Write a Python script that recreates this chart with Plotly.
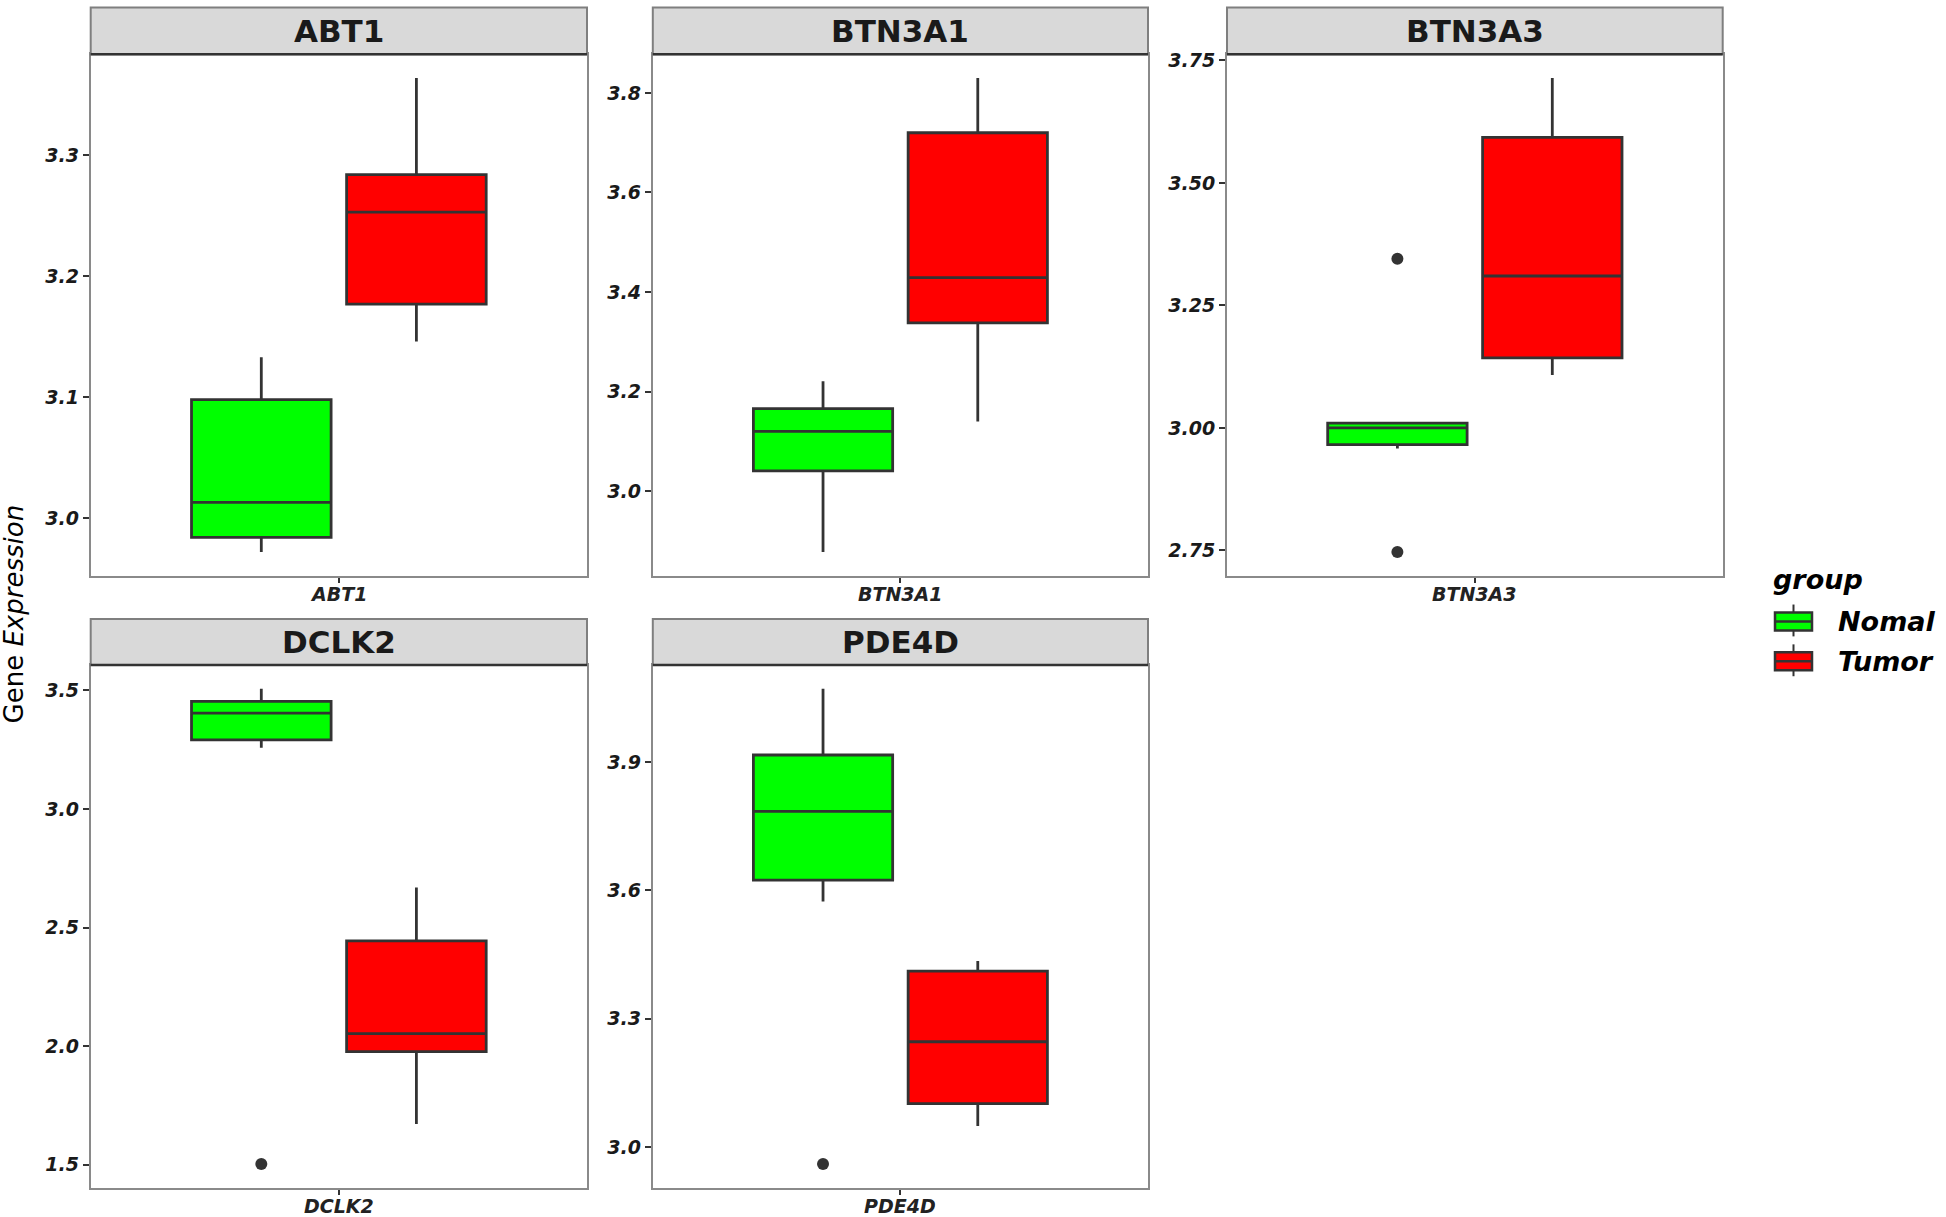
import plotly.graph_objects as go

W, H = 1946, 1217

genes = ["ABT1", "BTN3A1", "BTN3A3", "DCLK2", "PDE4D"]
groups = ["Nomal", "Tumor"]
colors = {"Nomal": "#00FF00", "Tumor": "#FF0000"}

# box statistics
normal_lower = [2.972, 2.878, 2.958, 3.258, 3.574]
normal_q1 = [2.984, 3.041, 2.966, 3.291, 3.624]
normal_med = [3.013, 3.120, 3.000, 3.404, 3.785]
normal_q3 = [3.098, 3.166, 3.010, 3.454, 3.917]
normal_upper = [3.133, 3.221, 3.010, 3.507, 4.072]
normal_out = [[], [], [3.345, 2.747], [1.503], [2.960]]

tumor_lower = [3.146, 3.140, 3.108, 1.672, 3.049]
tumor_q1 = [3.177, 3.338, 3.143, 1.977, 3.101]
tumor_med = [3.253, 3.429, 3.310, 2.053, 3.246]
tumor_q3 = [3.284, 3.720, 3.593, 2.444, 3.411]
tumor_upper = [3.364, 3.830, 3.714, 2.669, 3.435]
tumor_out = [[], [], [], [], []]

y_dtick = [0.1, 0.2, 0.25, 0.5, 0.3]
y_fmt = [".1f", ".1f", ".2f", ".1f", ".1f"]

stats = {
    "Nomal": (normal_lower, normal_q1, normal_med, normal_q3, normal_upper, normal_out),
    "Tumor": (tumor_lower, tumor_q1, tumor_med, tumor_q3, tumor_upper, tumor_out),
}

# panel positions in pixels
cols_px = [(90.7, 587.0), (652.8, 1148.0), (1227.0, 1722.7)]
rows_px = [((2.6, 49.5), (49.5, 573.0)), ((616.5, 662.7), (662.7, 1187.6))]

FONT = "DejaVu Sans"


def px(x0, x1, y0, y1):
    return dict(xref="paper", yref="paper", x0=x0 / W, x1=x1 / W, y0=1 - y1 / H, y1=1 - y0 / H)


fig = go.Figure()
layout = dict(
    width=W, height=H,
    margin=dict(l=0, r=0, t=0, b=0),
    paper_bgcolor="white", plot_bgcolor="white",
    boxmode="group", boxgap=0.25, boxgroupgap=0.1,
    showlegend=False,
    shapes=[], annotations=[],
)

for i, g in enumerate(genes):
    r, c = divmod(i, 3)
    x0, x1 = cols_px[c]
    (s0, s1), (p0, p1) = rows_px[r]
    xa = "x" if i == 0 else f"x{i+1}"
    ya = "y" if i == 0 else f"y{i+1}"
    xkey = "xaxis" if i == 0 else f"xaxis{i+1}"
    ykey = "yaxis" if i == 0 else f"yaxis{i+1}"

    vals = []
    for grp in groups:
        lo, q1, md, q3, up, out = stats[grp]
        vals += [lo[i], up[i]] + out[i]
        extra = dict(y=[out[i]], boxpoints="outliers", jitter=0, pointpos=0) if out[i] else dict(boxpoints=False)
        fig.add_trace(go.Box(
            name=grp, x=[g], q1=[q1[i]], median=[md[i]], q3=[q3[i]],
            lowerfence=[lo[i]], upperfence=[up[i]],
            fillcolor=colors[grp], whiskerwidth=0,
            line=dict(color="#333333", width=2.8),
            marker=dict(color="#333333", size=12),
            offsetgroup=grp, legendgroup=grp,
            xaxis=xa, yaxis=ya, **extra,
        ))
    vmin, vmax = min(vals), max(vals)
    pad = (vmax - vmin) * 0.05

    layout[xkey] = dict(
        domain=[x0 / W, x1 / W], anchor=ya, type="category",
        categoryorder="array", categoryarray=[g],
        range=[-0.6, 0.6], showgrid=False, zeroline=False,
        showline=True, mirror=True, linecolor="#8a8a8a", linewidth=2,
        ticks="outside", ticklen=5, tickcolor="#333333", tickwidth=1.5,
        showticklabels=False,
    )
    layout[ykey] = dict(
        domain=[1 - p1 / H, 1 - p0 / H], anchor=xa,
        range=[vmin - pad, vmax + pad], tick0=3.0, dtick=y_dtick[i], tickformat=y_fmt[i],
        showgrid=False, zeroline=False,
        showline=True, mirror=True, linecolor="#8a8a8a", linewidth=2,
        ticks="outside", ticklen=6, tickcolor="#333333", tickwidth=1.5,
        tickfont=dict(family=FONT, size=19, color="#1a1a1a", weight="bold", style="italic"),
    )

    # x category label under the panel
    layout["annotations"].append(dict(
        text=g, xref="paper", yref="paper", showarrow=False,
        x=(x0 + x1) / 2 / W, y=1 - (p1 + 18.5) / H, xanchor="center", yanchor="middle",
        height=22, borderpad=0,
        font=dict(family=FONT, size=19, color="#222222", weight="bold", style="italic"),
    ))

    # facet strip
    layout["shapes"].append(dict(
        type="rect", **px(x0, x1, s0, s1),
        fillcolor="#d9d9d9", line=dict(color="#7f7f7f", width=2), layer="above",
    ))
    layout["shapes"].append(dict(
        type="line", **px(x0, x1, s1, s1),
        line=dict(color="#333333", width=2.5), layer="above",
    ))
    layout["annotations"].append(dict(
        text=g, xref="paper", yref="paper", showarrow=False,
        x=(x0 + x1) / 2 / W, y=1 - (s0 + s1) / 2 / H, xanchor="center", yanchor="middle",
        font=dict(family=FONT, size=31, color="#1a1a1a", weight="bold"),
    ))

layout["annotations"].append(dict(
    text="Gene <i>Expression</i>", xref="paper", yref="paper", showarrow=False,
    x=14 / W, y=1 - 612 / H, xanchor="center", yanchor="middle", textangle=-90,
    font=dict(family=FONT, size=26, color="black"),
))

# legend drawn by hand so the keys match ggplot's box glyphs
leg_font = dict(family=FONT, size=27, color="black", weight="bold", style="italic")
layout["annotations"].append(dict(
    text="group", xref="paper", yref="paper", showarrow=False,
    x=1771 / W, y=1 - 577 / H, xanchor="left", yanchor="middle", font=leg_font,
))
for k, grp in enumerate(groups):
    cy = 619 + 40 * k
    layout["shapes"].append(dict(
        type="line", **px(1793.5, 1793.5, cy - 17, cy + 15),
        line=dict(color="#333333", width=2),
    ))
    layout["shapes"].append(dict(
        type="rect", **px(1775, 1812, cy - 9, cy + 9),
        fillcolor=colors[grp], line=dict(color="#333333", width=2.5),
    ))
    layout["shapes"].append(dict(
        type="line", **px(1775, 1812, cy, cy),
        line=dict(color="#333333", width=2.5),
    ))
    layout["annotations"].append(dict(
        text=grp, xref="paper", yref="paper", showarrow=False,
        x=1836 / W, y=1 - cy / H, xanchor="left", yanchor="middle", font=leg_font,
    ))

fig.update_layout(**layout)
fig.write_html("out.html", config={"displayModeBar": False},
               post_script="document.body.style.margin='0';")
